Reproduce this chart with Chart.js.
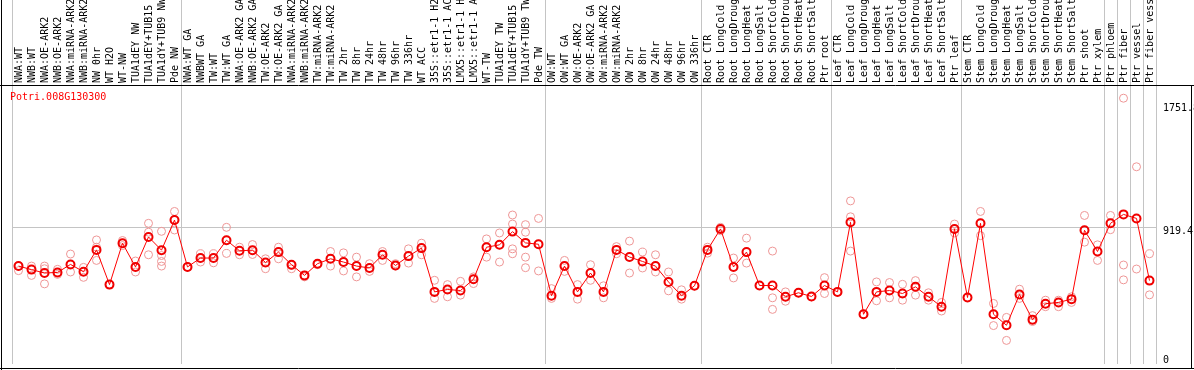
<!DOCTYPE html>
<html>
<head>
<meta charset="utf-8">
<script src="https://cdn.jsdelivr.net/npm/chart.js@4"></script>
<style>
  html, body { margin: 0; padding: 0; background: #fff; }
</style>
</head>
<body>
<canvas id="myChart" width="1194" height="370"></canvas>
<script>
let geneId = 'Potri.008G130300';

let labels = [
  'NWA:WT', 'NWB:WT', 'NWA:OE-ARK2', 'NWB:OE-ARK2', 'NWA:miRNA-ARK2', 'NWB:miRNA-ARK2', 'NW 0hr', 'WT H2O', 'WT-NW',
  'TUA1dEY NW', 'TUA1dEY+TUB15 NW', 'TUA1dY+TUB9 NW', 'Pde NW',
  'NWA:WT GA', 'NWBWT GA', 'TW:WT', 'TW:WT GA', 'NWA:OE-ARK2 GA', 'NWB:OE-ARK2 GA', 'TW:OE-ARK2', 'TW:OE-ARK2 GA',
  'NWA:miRNA-ARK2 GA', 'NWB:miRNA-ARK2 GA', 'TW:miRNA-ARK2', 'TW:miRNA-ARK2 GA', 'TW 2hr', 'TW 8hr', 'TW 24hr', 'TW 48hr',
  'TW 96hr', 'TW 336hr', 'WT ACC', '35S::etr1-1 H2O', '35S::etr1-1 ACC', 'LMX5::etr1-1 H2O', 'LMX5::etr1-1 ACC',
  'WT-TW', 'TUA1dEY TW', 'TUA1dEY+TUB15 TW', 'TUA1dY+TUB9 TW', 'Pde TW',
  'OW:WT', 'OW:WT GA', 'OW:OE-ARK2', 'OW:OE-ARK2 GA', 'OW:miRNA-ARK2', 'OW:miRNA-ARK2 GA', 'OW 2hr', 'OW 8hr',
  'OW 24hr', 'OW 48hr', 'OW 96hr', 'OW 336hr',
  'Root CTR', 'Root LongCold', 'Root LongDrought', 'Root LongHeat', 'Root LongSalt', 'Root ShortCold',
  'Root ShortDrought', 'Root ShortHeat', 'Root ShortSalt', 'Ptr root',
  'Leaf CTR', 'Leaf LongCold', 'Leaf LongDrought', 'Leaf LongHeat', 'Leaf LongSalt', 'Leaf ShortCold',
  'Leaf ShortDrought', 'Leaf ShortHeat', 'Leaf ShortSalt', 'Ptr leaf',
  'Stem CTR', 'Stem LongCold', 'Stem LongDrought', 'Stem LongHeat', 'Stem LongSalt', 'Stem ShortCold',
  'Stem ShortDrought', 'Stem ShortHeat', 'Stem ShortSalt', 'Ptr shoot', 'Ptr xylem',
  'Ptr phloem', 'Ptr fiber', 'Ptr vessel', 'Ptr fiber vessel'
];

// index of the first sample in each group (88 = end)
let groupStarts = [0, 13, 41, 53, 63, 73, 84, 85, 86, 87, 88];

let meanVals = [
  660, 636, 613, 617, 671, 622, 769, 535, 814, 654, 856, 767, 970,
  654, 714, 714, 834, 763, 767, 684, 754, 669, 597, 676, 709, 687, 660, 647, 736, 664, 727, 781,
  486, 502, 495, 571, 787, 803, 892, 816, 807,
  460, 660, 486, 613, 486, 769, 721, 691, 660, 553, 460, 527,
  769, 910, 654, 754, 529, 529, 453, 480, 455, 529,
  486, 955, 335, 486, 495, 475, 520, 453, 386, 910,
  448, 948, 335, 261, 468, 299, 406, 415, 437, 901, 758,
  948, 1008, 981, 562
];

let repA = [
  660, 660, 660, 638, 741, 651, 836, 535, 832, 694, 948, 894, 1028,
  654, 743, 743, 921, 787, 805, 709, 787, 664, 597, 676, 758, 749, 720, 676, 758, 676, 776, 814,
  564, 535, 557, 587, 843, 883, 1004, 939, 981,
  508, 698, 535, 669, 527, 791, 828, 754, 736, 620, 500, 527,
  787, 921, 714, 848, 529, 761, 486, 480, 453, 582,
  486, 1099, 335, 553, 549, 537, 562, 480, 415, 943,
  448, 1028, 408, 314, 504, 326, 430, 430, 453, 1001, 803,
  1001, 1791, 1329, 743
];

let repB = [
  629, 597, 642, 604, 620, 584, 787, 535, 798, 620, 888, 731, 903,
  654, 687, 682, 745, 736, 738, 642, 709, 642, 587, 669, 660, 627, 587, 624, 698, 660, 680, 736,
  442, 453, 464, 542, 720, 687, 943, 888, 627,
  442, 624, 437, 564, 446, 743, 613, 647, 620, 493, 437, 527,
  747, 898, 580, 680, 529, 446, 423, 480, 453, 475,
  486, 992, 335, 426, 446, 430, 464, 430, 357, 883,
  448, 865, 259, 159, 442, 286, 386, 386, 415, 821, 698,
  905, 667, 640, 466
];

let repC = [
  660, 636, 540, 617, 671, 622, 698, 535, 814, 654, 736, 660, 970,
  654, 714, 714, 834, 763, 767, 684, 754, 669, 597, 676, 709, 687, 660, 647, 736, 664, 727, 781,
  486, 502, 495, 571, 787, 803, 743, 720, 807,
  460, 660, 486, 613, 486, 769, 721, 691, 660, 553, 460, 527,
  769, 910, 654, 754, 529, 368, 453, 480, 455, 529,
  486, 761, 335, 486, 495, 475, 520, 453, 386, 910,
  448, 948, 335, 261, 468, 299, 406, 415, 437, 901, 758,
  948, 567, 981, 562
];

let repD = labels.map(() => null);
repD[11] = 691;
repD[39] = 649;
repD[38] = 776;

let yTicks = [0, 919.4, 1751.8];

let gray = '#c4c4c4';
let none = 'rgba(0,0,0,0)';
let xGrid = (c) => (c.type === 'scale' || groupStarts.includes(c.index)) ? gray : none;

let frame = {
  id: 'frame',
  afterDraw(chart) {
    let c = chart.ctx, a = chart.chartArea;
    c.save();
    c.strokeStyle = '#000';
    c.lineWidth = 1;
    c.beginPath();
    c.moveTo(1.5, 0); c.lineTo(1.5, 370);
    c.moveTo(0, a.top + 0.5); c.lineTo(1194, a.top + 0.5);
    c.moveTo(0, 368.5); c.lineTo(1194, 368.5);
    c.moveTo(1191.5, a.top); c.lineTo(1191.5, 369);
    c.stroke();
    c.fillStyle = '#ff0000';
    c.font = '10px "DejaVu Sans Mono"';
    c.textBaseline = 'top';
    c.fillText(geneId, 10, a.top + 7);
    c.restore();
  }
};

let repSet = (d) => ({
  data: d,
  showLine: false,
  pointRadius: 4,
  pointBorderWidth: 1,
  pointBorderColor: '#ee9696',
  pointBackgroundColor: none
});

let ctx = document.getElementById('myChart').getContext('2d');

let myChart = new Chart(ctx, {
  type: 'line',
  data: {
    labels: labels,
    datasets: [
      {
        data: meanVals,
        borderColor: '#ff0000',
        borderWidth: 1,
        pointRadius: 4,
        pointBorderWidth: 2,
        pointBorderColor: '#f00000',
        pointBackgroundColor: none,
        tension: 0
      },
      repSet(repA), repSet(repB), repSet(repC), repSet(repD)
    ]
  },
  options: {
    responsive: false,
    animation: false,
    layout: { padding: { left: 12, right: 0, top: 0, bottom: 4 } },
    plugins: {
      legend: { display: false },
      tooltip: { enabled: false }
    },
    scales: {
      x: {
        position: 'top',
        offset: true,
        grid: { offset: true, color: xGrid, tickColor: xGrid, tickLength: 85, lineWidth: 1 },
        border: { display: false },
        ticks: {
          autoSkip: false,
          minRotation: 90,
          maxRotation: 90,
          padding: -83,
          labelOffset: 13,
          color: '#000',
          font: { family: 'DejaVu Sans Mono', size: 10 }
        },
        afterFit: (s) => { s.height = 85; s.paddingLeft = 0; s.paddingRight = 0; }
      },
      y: {
        position: 'right',
        min: 0,
        max: 1880,
        afterBuildTicks: (s) => { s.ticks = yTicks.map(v => ({ value: v })); },
        grid: { drawTicks: false, color: (c) => c.tick && c.tick.value === 919.4 ? gray : none },
        border: { display: false },
        ticks: {
          padding: 7,
          color: '#000',
          font: { family: 'DejaVu Sans Mono', size: 10, lineHeight: 0.8 },
          callback: (v) => v === 0 ? ['0', ''] : ['', String(v)]
        },
        afterFit: (s) => { s.width = 38; s.paddingTop = 0; s.paddingBottom = 0; }
      }
    }
  },
  plugins: [frame]
});
</script>
</body>
</html>
